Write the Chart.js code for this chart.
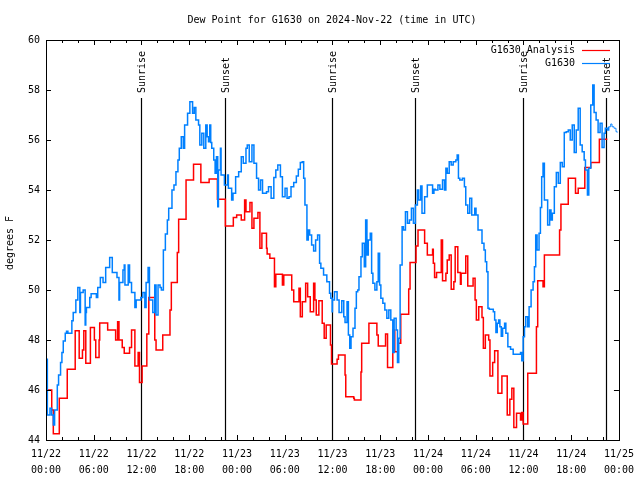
<!DOCTYPE html>
<html>
<head>
<meta charset="utf-8">
<script src="https://cdn.jsdelivr.net/npm/chart.js@4.4.1/dist/chart.umd.min.js"></script>
<style>
  html, body { margin: 0; padding: 0; background: #fff; }
</style>
</head>
<body>
<canvas id="chart" width="640" height="480"></canvas>
<script>
// Dew point, station G1630 vs analysis, 3 days from 11/22 00:00 UTC (x in hours)
const TITLE = 'Dew Point for G1630 on 2024-Nov-22 (time in UTC)';
const Y_LABEL = 'degrees F';
const DAY_LABELS = ['11/22', '11/23', '11/24', '11/25'];
const HOUR_LABELS = ['00:00', '06:00', '12:00', '18:00'];
const SERIES_NAMES = ['G1630 Analysis', 'G1630'];

const sunHours = [11.9, 22.5, 35.9, 46.4, 59.9, 70.4];
const sunLabels = ['Sunrise', 'Sunset', 'Sunrise', 'Sunset', 'Sunrise', 'Sunset'];

const analysisHours = [
  0.0, 0.1, 0.72, 0.92, 1.67, 2.67, 3.67, 4.17, 4.58, 4.75, 5.0, 5.58, 6.08, 6.25, 6.67, 6.75,
  7.75, 8.75, 9.0, 9.17, 9.58, 9.83, 10.5, 10.75, 11.17, 11.58, 11.75, 12.08, 12.67, 12.92,
  13.67, 13.83, 14.67, 15.58, 15.75, 16.5, 16.67, 17.6, 18.54, 19.46, 20.5, 21.54, 22.54,
  23.54, 23.96, 24.54, 24.96, 25.13, 25.63, 25.88, 26.13, 26.63, 26.88, 27.13, 27.71, 27.79,
  28.13, 28.71, 28.88, 29.71, 29.88, 30.88, 31.13, 31.79, 31.96, 32.21, 32.63, 32.88, 33.21,
  33.63, 33.79, 33.96, 34.29, 34.71, 34.96, 35.21, 35.75, 35.88, 36.58, 36.75, 37.58, 37.67,
  38.67, 38.75, 39.58, 39.67, 40.58, 41.58, 41.75, 42.67, 42.92, 43.58, 43.83, 44.25, 44.58,
  45.58, 45.75, 46.5, 46.75, 47.58, 47.92, 48.58, 48.67, 48.83, 49.08, 49.67, 49.83, 50.25,
  50.42, 50.67, 50.92, 51.25, 51.42, 51.75, 52.08, 52.17, 52.75, 53.0, 53.67, 53.92, 54.08,
  54.38, 54.79, 54.96, 55.21, 55.63, 55.79, 56.13, 56.38, 56.79, 57.29, 57.96, 58.29, 58.54,
  58.79, 59.13, 59.63, 59.79, 59.96, 60.54, 61.63, 61.79, 62.46, 62.63, 64.54, 64.71, 65.63,
  66.54, 66.88, 67.71, 68.46, 69.54, 70.54
];
const analysisValues = [
  45.5, 46.0, 45.2, 44.25, 45.67, 46.83, 48.37, 47.27, 47.6, 48.37, 47.07, 48.5, 48.0, 47.3, 48.0, 48.68,
  48.4, 48.0, 48.73, 48.0, 47.7, 47.47, 47.7, 48.4, 46.96, 47.5, 46.3, 46.96, 48.24, 49.7,
  48.0, 47.6, 48.2, 49.2, 50.3, 51.5, 52.83, 54.4, 55.03, 54.3, 54.44, 53.63, 52.56,
  52.9, 53.0, 52.8, 53.6, 53.13, 53.5, 52.47, 52.87, 53.1, 51.67, 52.27, 51.67, 51.44,
  51.27, 50.13, 50.63, 50.2, 50.6, 50.0, 49.53, 50.07, 48.93, 49.53, 50.27, 49.73, 49.13,
  50.27, 49.6, 49.0, 49.57, 48.67, 48.07, 48.6, 47.8, 47.04, 47.23, 47.4, 46.6, 45.73,
  45.67, 45.6, 46.72, 47.87, 48.67, 48.2, 47.76, 48.24, 46.9, 48.4, 47.53, 47.87, 49.03,
  50.04, 51.1, 51.76, 52.4, 51.87, 51.4, 51.63, 51.07, 50.5, 50.7, 52.0, 50.37, 50.67,
  51.2, 51.4, 50.03, 50.33, 51.73, 50.7, 50.23, 50.67, 51.36, 50.16, 50.47, 49.6, 48.8,
  49.33, 48.9, 47.67, 48.2, 48.0, 46.56, 47.1, 47.57, 45.87, 46.56, 45.0, 45.63, 46.07,
  44.5, 45.07, 44.8, 45.1, 44.64, 46.67, 48.53, 50.37, 50.13, 51.4, 52.4, 53.43, 54.47,
  53.87, 54.07, 54.9, 55.1, 56.03, 56.03
];

const stationHours = [
  0.0, 0.08, 0.17, 0.5, 0.71, 0.92, 1.08, 1.42, 1.58, 1.83, 2.0, 2.17, 2.42, 2.58, 2.75, 3.25,
  3.42, 3.75, 4.0, 4.25, 4.33, 4.67, 4.92, 5.0, 5.08, 5.5, 5.67, 6.33, 6.5, 6.83, 7.17, 7.5,
  8.0, 8.33, 8.92, 9.17, 9.25, 9.67, 9.83, 9.92, 10.33, 10.5, 10.75, 11.17, 11.33, 11.92,
  12.17, 12.42, 12.58, 12.83, 13.0, 13.42, 13.67, 13.83, 14.08, 14.33, 14.5, 14.75, 15.0,
  15.25, 15.42, 15.83, 16.08, 16.33, 16.58, 16.75, 17.0, 17.25, 17.42, 17.79, 18.08, 18.42,
  18.63, 18.83, 19.17, 19.33, 19.58, 19.83, 20.08, 20.25, 20.42, 20.58, 20.7, 20.83, 21.08,
  21.25, 21.42, 21.58, 21.67, 21.92, 22.0, 22.42, 22.83, 22.92, 23.33, 23.5, 23.83, 24.21,
  24.54, 24.79, 25.13, 25.29, 25.54, 25.88, 26.13, 26.46, 26.71, 26.96, 27.21, 27.71, 27.96,
  28.29, 28.63, 28.88, 29.13, 29.46, 29.71, 30.04, 30.29, 30.54, 30.79, 31.13, 31.46, 31.71,
  31.96, 32.21, 32.38, 32.54, 32.79, 32.96, 33.13, 33.38, 33.63, 33.88, 34.13, 34.38, 34.54,
  34.88, 35.29, 35.63, 35.79, 35.96, 36.0, 36.25, 36.58, 36.83, 37.17, 37.42, 37.58, 37.83,
  38.0, 38.17, 38.33, 38.58, 38.83, 39.0, 39.17, 39.33, 39.58, 39.75, 40.0, 40.17, 40.33,
  40.5, 40.75, 40.92, 41.08, 41.33, 41.58, 41.75, 41.92, 42.08, 42.33, 42.58, 42.83, 43.08,
  43.33, 43.58, 43.75, 44.0, 44.17, 44.33, 44.5, 44.75, 44.92, 45.17, 45.42, 45.67, 45.92,
  46.17, 46.42, 46.67, 46.83, 47.08, 47.25, 47.58, 47.92, 48.58, 48.75, 48.92, 49.25, 49.5,
  49.83, 50.08, 50.25, 50.42, 50.67, 50.92, 51.17, 51.5, 51.67, 51.83, 52.0, 52.33, 52.58,
  52.75, 53.0, 53.25, 53.5, 53.88, 54.04, 54.29, 54.54, 54.79, 55.04, 55.21, 55.38, 55.54,
  55.71, 56.21, 56.38, 56.54, 56.71, 56.88, 57.04, 57.21, 57.38, 57.63, 57.79, 58.04, 58.38,
  58.71, 59.63, 59.79, 59.96, 60.13, 60.29, 60.54, 60.71, 60.96, 61.21, 61.38, 61.54, 61.71,
  61.96, 62.13, 62.29, 62.46, 62.63, 62.79, 63.04, 63.29, 63.46, 63.63, 63.88, 64.13, 64.38,
  64.63, 64.88, 65.13, 65.38, 65.63, 65.88, 66.13, 66.38, 66.63, 66.88, 67.13, 67.38, 67.63,
  67.79, 68.04, 68.21, 68.46, 68.71, 68.88, 69.13, 69.38, 69.63, 69.88, 70.13, 70.29, 70.54,
  70.71, 70.96, 71.13, 71.38, 71.63, 71.79
];
const stationValues = [
  47.2, 47.23, 45.0, 45.27, 45.0, 44.6, 45.2, 46.2, 46.6, 47.1, 47.5, 47.96, 48.27, 48.35, 48.27, 48.77,
  49.1, 49.6, 50.1, 49.1, 49.9, 50.0, 48.6, 49.1, 49.3, 49.7, 49.85, 49.7, 50.1, 50.5, 50.3, 50.9,
  51.3, 50.7, 50.5, 49.6, 50.3, 50.8, 51.0, 50.2, 51.0, 50.3, 49.9, 49.3, 49.6, 49.7,
  49.9, 49.3, 50.3, 50.9, 49.6, 49.1, 50.2, 49.0, 50.2, 50.1, 50.0, 51.6, 52.24,
  52.8, 53.27, 54.0, 54.2, 54.73, 55.2, 55.67, 56.13, 55.67, 56.6, 57.07, 57.53, 57.07,
  57.3, 56.8, 56.6, 55.8, 56.27, 55.67, 56.6, 56.13, 55.93, 56.6, 55.9, 55.67, 55.2,
  54.67, 55.33, 53.33, 54.8, 55.67, 54.6, 54.2, 54.6, 54.07, 53.6, 53.87, 54.53, 54.73,
  55.33, 55.07, 55.67, 55.8, 55.13, 55.8, 55.07, 54.47, 54.0, 54.4, 53.87, 53.93, 54.13,
  53.67, 54.5, 54.8, 55.0, 54.53, 53.73, 54.07, 53.67, 53.73, 54.13, 54.3, 54.56, 54.83,
  55.1, 55.13, 54.47, 53.4, 52.0, 52.4, 52.2, 51.8, 51.56, 52.0, 52.2, 51.07, 50.87,
  50.6, 50.33, 49.87, 49.67, 49.13, 49.6, 49.93, 49.6, 49.1, 49.57, 48.93, 48.7, 49.53,
  48.2, 47.67, 48.13, 48.47, 49.27, 49.93, 50.0, 50.53, 51.33, 51.87, 50.93, 52.8, 51.4,
  52.0, 52.27, 50.67, 50.27, 50.0, 50.33, 51.47, 50.2, 49.67, 49.47, 49.2, 48.87, 49.2,
  48.8, 47.5, 48.87, 48.4, 47.1, 48.07, 51.0, 52.53, 52.4, 53.13, 52.67, 52.8, 53.27,
  52.67, 53.4, 54.0, 53.6, 54.16, 53.07, 53.73, 54.2, 53.87, 54.03, 54.0, 54.2, 54.03,
  54.4, 54.0, 54.87, 54.67, 55.13, 55.0, 55.13, 55.2, 55.4, 54.47, 54.4, 54.47, 54.13,
  53.4, 53.07, 53.67, 53.0, 53.27, 53.0, 52.4, 52.4, 51.87, 51.6, 51.13, 50.73, 49.27,
  49.23, 49.13, 48.8, 48.3, 48.67, 48.8, 48.53, 48.15, 48.47, 48.67, 48.27, 47.73, 47.63,
  47.43, 47.5, 47.17, 48.13, 48.53, 48.93, 48.53, 49.33, 50.0, 50.33, 50.93, 52.2, 51.6,
  52.27, 53.3, 54.53, 55.07, 53.6, 53.6, 52.6, 53.2, 52.8, 53.07, 54.13, 54.7, 54.27,
  55.1, 54.93, 56.3, 56.33, 56.4, 56.0, 56.6, 55.5, 56.4, 57.27, 55.8, 55.53, 55.2,
  54.8, 53.8, 54.87, 57.4, 58.2, 57.1, 56.8, 56.3, 56.67, 55.7, 56.27, 56.47, 56.4,
  56.53, 56.64, 56.53, 56.47, 56.33, 56.3
];

const FONT_FAMILY = '"DejaVu Sans Mono", "Liberation Mono", monospace';
const FONT = '10px ' + FONT_FAMILY;

function toPoints(xs, ys) {
  return xs.map((x, i) => ({ x: x, y: ys[i] }));
}

// gnuplot-style decorations: frame, inward ticks, sun lines, title, legend
const gnuplotDecor = {
  id: 'gnuplotDecor',
  beforeDatasetsDraw(chart) {
    const ctx = chart.ctx;
    const xs = chart.scales.x;
    const area = chart.chartArea;
    ctx.save();
    ctx.strokeStyle = '#000';
    ctx.lineWidth = 1.2;
    ctx.fillStyle = '#000';
    ctx.font = FONT;
    sunHours.forEach((h, i) => {
      const px = Math.round(xs.getPixelForValue(h)) + 0.5;
      ctx.beginPath();
      ctx.moveTo(px, 98);
      ctx.lineTo(px, area.bottom);
      ctx.stroke();
      ctx.save();
      ctx.translate(px + 1, 93);
      ctx.rotate(-Math.PI / 2);
      ctx.textAlign = 'left';
      ctx.textBaseline = 'middle';
      ctx.fillText(sunLabels[i], 0, 0);
      ctx.restore();
    });
    ctx.restore();
  },
  afterDraw(chart) {
    const ctx = chart.ctx;
    const xs = chart.scales.x;
    const ys = chart.scales.y;
    const a = chart.chartArea;
    ctx.save();
    ctx.strokeStyle = '#000';
    ctx.lineWidth = 1;
    ctx.strokeRect(Math.round(a.left) + 0.5, Math.round(a.top) + 0.5,
      Math.round(a.right - a.left), Math.round(a.bottom - a.top));

    ctx.beginPath();
    for (let h = 0; h <= 72; h += 2) {
      const len = h % 6 === 0 ? 5 : 3;
      const px = Math.round(xs.getPixelForValue(h)) + 0.5;
      ctx.moveTo(px, a.bottom); ctx.lineTo(px, a.bottom - len);
      ctx.moveTo(px, a.top); ctx.lineTo(px, a.top + len);
    }
    for (let v = 44; v <= 60; v += 2) {
      const py = Math.round(ys.getPixelForValue(v)) + 0.5;
      ctx.moveTo(a.left, py); ctx.lineTo(a.left + 5, py);
      ctx.moveTo(a.right, py); ctx.lineTo(a.right - 5, py);
    }
    ctx.stroke();

    ctx.fillStyle = '#000';
    ctx.font = FONT;
    ctx.textAlign = 'center';
    ctx.textBaseline = 'middle';
    ctx.fillText(TITLE, 332, 20);

    ctx.save();
    ctx.translate(10, 243);
    ctx.rotate(-Math.PI / 2);
    ctx.fillText(Y_LABEL, 0, 0);
    ctx.restore();

    // legend
    const colors = [chart.data.datasets[1].borderColor, chart.data.datasets[0].borderColor];
    ctx.textAlign = 'right';
    SERIES_NAMES.forEach((name, i) => {
      const y = 50 + i * 13;
      ctx.fillStyle = '#000';
      ctx.fillText(name, 575, y);
      ctx.strokeStyle = colors[i];
      ctx.lineWidth = 1.2;
      ctx.beginPath();
      ctx.moveTo(582, y + 0.5);
      ctx.lineTo(610, y + 0.5);
      ctx.stroke();
    });
    ctx.restore();
  }
};

new Chart(document.getElementById('chart').getContext('2d'), {
  type: 'line',
  data: {
    datasets: [
      {
        label: SERIES_NAMES[1],
        data: toPoints(stationHours, stationValues),
        borderColor: '#0080ff',
        borderWidth: 1.5,
        stepped: true,
        pointRadius: 0,
        fill: false,
        segment: {
          borderWidth: c => (c.p0.parsed.x >= 70.6 ? 0.9 : 1.5)
        }
      },
      {
        label: SERIES_NAMES[0],
        data: toPoints(analysisHours, analysisValues),
        borderColor: '#ff0000',
        borderWidth: 1.5,
        stepped: true,
        pointRadius: 0,
        fill: false
      }
    ]
  },
  options: {
    responsive: false,
    animation: false,
    layout: { padding: { top: 40, right: 19, left: 0, bottom: 0 } },
    plugins: {
      legend: { display: false },
      title: { display: false },
      tooltip: { enabled: false }
    },
    scales: {
      x: {
        type: 'linear',
        min: 0,
        max: 72,
        grid: { display: false, drawTicks: false },
        border: { display: false },
        afterFit: s => { s.height = 40; },
        ticks: {
          stepSize: 6,
          autoSkip: false,
          maxRotation: 0,
          padding: 6,
          color: '#000',
          font: { family: FONT_FAMILY, size: 10, lineHeight: 1.6 },
          callback: v => [DAY_LABELS[Math.floor(v / 24)], HOUR_LABELS[(v % 24) / 6]]
        }
      },
      y: {
        min: 44,
        max: 60,
        grid: { display: false, drawTicks: false },
        border: { display: false },
        afterFit: s => { s.width = 46; },
        ticks: {
          stepSize: 2,
          padding: 6,
          color: '#000',
          font: { family: FONT_FAMILY, size: 10 }
        }
      }
    }
  },
  plugins: [gnuplotDecor]
});
</script>
</body>
</html>
